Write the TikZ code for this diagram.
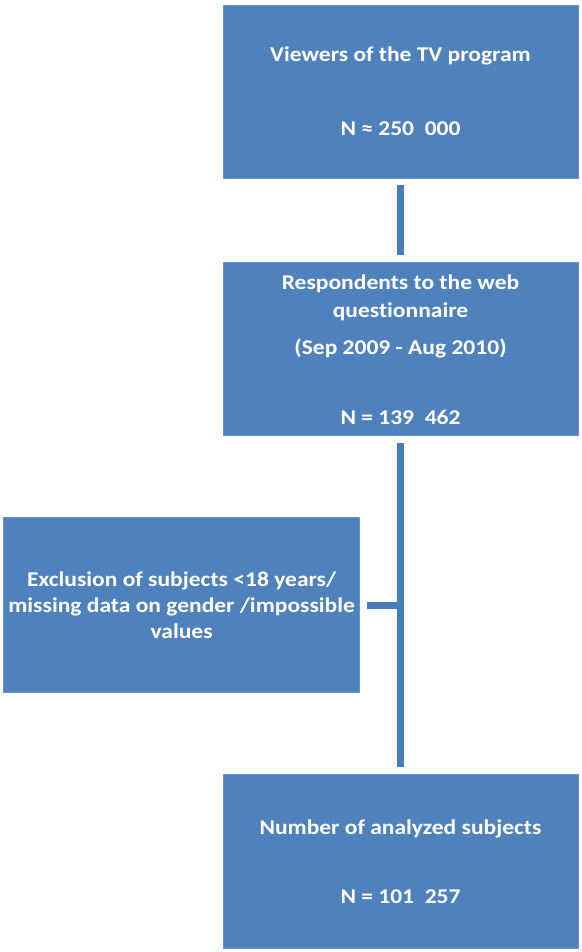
\documentclass[tikz,border=0pt]{standalone}
\usepackage{fontspec}
\setmainfont{Carlito}[FakeStretch=1.12, Ligatures=NoCommon]
\usetikzlibrary{positioning, calc}
\definecolor{boxfill}{RGB}{79,129,189}
\definecolor{boxline}{RGB}{98,148,208}
\definecolor{linkblue}{RGB}{74,124,186}
\begin{document}
\begin{tikzpicture}[
  stage/.style={rectangle, fill=boxfill, draw=boxline, line width=0.8pt, minimum width=355pt, minimum height=173pt, inner sep=4pt, align=center, text=white, font=\fontsize{21}{26}\selectfont\bfseries},
  link/.style={draw=linkblue, line width=7pt, shorten >=7pt, shorten <=7pt}]

\useasboundingbox (0,0) rectangle (581pt,-952pt);

\node[stage] (viewers) at (400.5pt,-91.5pt) {Viewers of the TV program\\[48pt] N ≈ 250~~000};

\node[stage, below = 84pt of viewers] (respondents) {Respondents to the web\\[2pt] questionnaire\\[11pt] (Sep 2009 - Aug 2010)\\[44pt] N = 139~~462};

\draw[link] (viewers.south) -- (respondents.north);

\node[stage, minimum height=174pt, below = 338pt of respondents] (analyzed) {Number of analyzed subjects\\[43pt] N = 101~~257};

\draw[link] (respondents.south) -- (analyzed.north);

\coordinate (junction) at ($(respondents.south)!0.5!(analyzed.north)$);

\node[stage, minimum width=356pt, minimum height=175pt, left = 40.5pt of junction] (exclusion) {Exclusion of subjects <18 years/\\ missing data on gender /impossible\\ values};

\draw[link, shorten >=0pt] (exclusion.east) -- (junction);

\end{tikzpicture}
\end{document}
